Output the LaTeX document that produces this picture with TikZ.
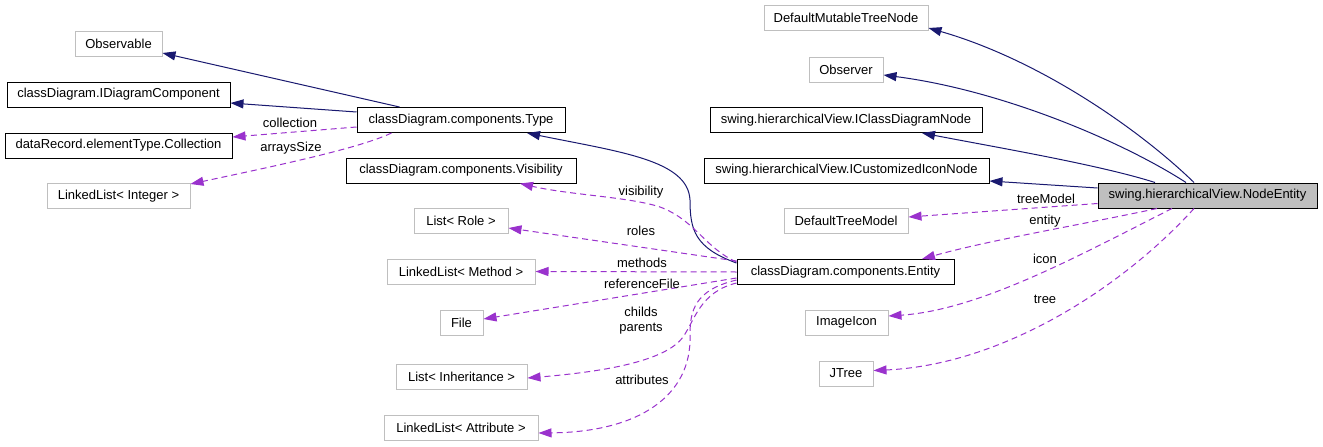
\documentclass[tikz,border=0pt]{standalone}
\usepackage{fontspec}
\setmainfont{Liberation Sans}
\usetikzlibrary{arrows.meta,calc}
\definecolor{navy}{HTML}{191970}
\definecolor{orch}{HTML}{9A32CD}
\definecolor{gborder}{HTML}{BFBFBF}
\begin{document}
\begin{tikzpicture}[x=1pt,y=-1pt,
  font=\fontsize{13}{15}\selectfont,
  box/.style={draw=black, line width=1pt, minimum height=25pt, inner sep=0pt, fill=white},
  gbox/.style={box, draw=gborder},
  gen/.style={color=navy, line width=1pt, -{Triangle[length=13pt,width=9pt]}},
  assoc/.style={color=orch, line width=1pt, dash pattern=on 6pt off 4pt, -{Triangle[length=13pt,width=9pt]}},
  lbl/.style={inner sep=0pt, align=center}]
\fill[white] (0,0) rectangle (1323,447);
\useasboundingbox (0,0) rectangle (1323,447);
% nodes
\node[gbox, minimum width=87pt] (obs) at (118.5,44) {Observable};
\node[box, minimum width=223pt] (idc) at (118.5,94.5) {classDiagram.IDiagramComponent};
\node[box, minimum width=227pt] (coll) at (118.5,145.5) {dataRecord.elementType.Collection};
\node[gbox, minimum width=143pt] (lint) at (118.5,196) {LinkedList< Integer >};
\node[box, minimum width=208pt] (type) at (461,120) {classDiagram.components.Type};
\node[box, minimum width=230pt] (vis) at (461,170.5) {classDiagram.components.Visibility};
\node[gbox, minimum width=94pt] (role) at (461,221) {List< Role >};
\node[gbox, minimum width=148pt] (meth) at (461,271.5) {LinkedList< Method >};
\node[gbox, minimum width=43pt] (file) at (461.5,322.5) {File};
\node[gbox, minimum width=131pt] (inhl) at (461.5,377) {List< Inheritance >};
\node[gbox, minimum width=154pt] (attr) at (461,427.5) {LinkedList< Attribute >};
\node[box, minimum width=217pt] (ent) at (845.5,272) {classDiagram.components.Entity};
\node[gbox, minimum width=164pt] (dmtn) at (846,18) {DefaultMutableTreeNode};
\node[gbox, minimum width=74pt] (obsr) at (846,69.5) {Observer};
\node[box, minimum width=272pt] (icdn) at (846,120) {swing.hierarchicalView.IClassDiagramNode};
\node[box, minimum width=285pt] (icin) at (846.5,170.5) {swing.hierarchicalView.ICustomizedIconNode};
\node[gbox, minimum width=124pt] (dtm) at (846,221) {DefaultTreeModel};
\node[gbox, minimum width=83pt] (img) at (846.5,322.5) {ImageIcon};
\node[gbox, minimum width=54pt] (jt) at (846,373.5) {JTree};
\node[box, fill=gborder, minimum width=219pt] (ne) at (1207.5,195.5) {swing.hierarchicalView.NodeEntity};
% generalisation edges
\draw[gen] ($(type.north west)+(43,0)$) -- ($(obs.east)+(0,9)$);
\draw[gen] ($(type.west)+(0,-8)$) -- ($(idc.east)+(0,8.5)$);
\draw[gen] ($(ent.north west)+(0,4)$) .. controls (695,248) and (690,230) .. (690,200) .. controls (688,160) and (620,152) .. ($(type.south)+(66,0)$);
\draw[gen] ($(ne.north)+(-13.5,0)$) .. controls (1140,130) and (1040,60) .. ($(dmtn.east)+(0,10)$);
\draw[gen] ($(ne.north)+(-21.5,0)$) .. controls (1120,140) and (1000,90) .. ($(obsr.east)+(0,5.5)$);
\draw[gen] ($(ne.north)+(-52.5,0)$) .. controls (1100,165) and (1000,148) .. ($(icdn.south)+(76,0)$);
\draw[gen] ($(ne.west)+(0,-7.5)$) -- ($(icin.east)+(0,10.5)$);
% association edges
\draw[assoc] ($(type.west)+(0,7)$) -- ($(coll.east)+(0,-8.5)$);
\draw[assoc] ($(type.south west)+(35,0)$) .. controls (360,148) and (280,165) .. ($(lint.east)+(0,-12)$);
\draw[assoc] ($(ent.north west)+(0,3)$) .. controls (705,248) and (695,220) .. (660,207) .. controls (630,197) and (570,195) .. ($(vis.south)+(59,0)$);
\draw[assoc] ($(ent.north west)+(0,2)$) -- ($(role.east)+(0,7)$);
\draw[assoc] (ent.west) -- (meth.east);
\draw[assoc] ($(ent.west)+(0,6)$) -- ($(file.east)+(0,-3.5)$);
\draw[assoc] ($(ent.south west)+(0,-2)$) .. controls (700,292) and (695,320) .. (683,337) .. controls (665,362) and (600,372) .. ($(inhl.east)+(0,1)$);
\draw[assoc] ($(ent.west)+(0,8)$) .. controls (695,290) and (690,310) .. (690,335) .. controls (692,395) and (640,432) .. ($(attr.east)+(0,5.5)$);
\draw[assoc] ($(ne.west)+(0,8)$) -- ($(dtm.east)+(0,-4)$);
\draw[assoc] ($(ne.south)+(-50.5,0)$) .. controls (1080,225) and (990,240) .. ($(ent.north)+(76.5,0)$);
\draw[assoc] ($(ne.south)+(-35.5,0)$) .. controls (1080,255) and (980,310) .. ($(img.east)+(0,-6.5)$);
\draw[assoc] ($(ne.south)+(-13.5,0)$) .. controls (1120,290) and (1000,365) .. ($(jt.east)+(0,-3)$);
% labels
\node[lbl] (lcoll) at (290,123) {collection};
\node[lbl] (larr) at (291,148) {arraysSize};
\node[lbl] (lvis) at (641,192) {visibility};
\node[lbl] (lrole) at (641,231) {roles};
\node[lbl] (lmeth) at (642,263) {methods};
\node[lbl] (lref) at (642,284) {referenceFile};
\node[lbl] (lchild) at (641,321) {childs\\parents};
\node[lbl] (lattr) at (642,380) {attributes};
\node[lbl] (ltm) at (1046,199) {treeModel};
\node[lbl] (lent) at (1045,221) {entity};
\node[lbl] (licon) at (1045,259) {icon};
\node[lbl] (ltree) at (1045,299) {tree};
\end{tikzpicture}
\end{document}
